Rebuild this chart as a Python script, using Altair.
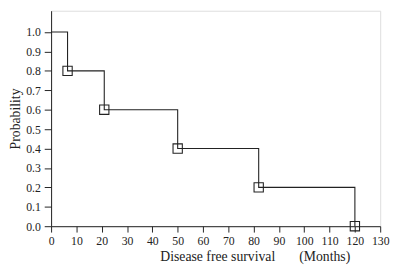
import altair as alt
import pandas as pd

months = [0, 6.5, 21, 50, 82, 120]
prob = [1.0, 0.8, 0.6, 0.4, 0.2, 0.0]
x_ticks = list(range(0, 131, 10))
y_ticks = [round(i / 10, 1) for i in range(0, 11)]

df = pd.DataFrame({"months": months, "prob": prob})

font = "Liberation Serif"
xscale = alt.Scale(domain=[0, 130], nice=False, zero=False)
yscale = alt.Scale(domain=[0, 1.11], nice=False)

xaxis = alt.Axis(values=x_ticks, grid=False, tickSize=6, labelPadding=4,
                 domainColor="#222", tickColor="#222", labelColor="#222",
                 labelFont=font, labelFontSize=12, labelOverlap=False,
                 title="Disease free survival\u00a0\u00a0\u00a0\u00a0\u00a0\u00a0\u00a0(Months)",
                 titleFont=font, titleFontSize=14, titleFontWeight="normal",
                 titleColor="#222", titleAnchor="start", titleX=111, titleY=35,
                 titleBaseline="alphabetic", labelFlush=False)
yaxis = alt.Axis(values=y_ticks, format=".1f", grid=False, tickSize=7, labelPadding=4,
                 domainColor="#222", tickColor="#222", labelColor="#222",
                 labelFont=font, labelFontSize=12, labelOverlap=False,
                 title="Probability", titleFont=font, titleFontSize=14,
                 titleFontWeight="normal", titleColor="#222", titlePadding=3)

base = alt.Chart(df).encode(
    x=alt.X("months:Q", scale=xscale, axis=xaxis),
    y=alt.Y("prob:Q", scale=yscale, axis=yaxis),
)
line = base.mark_line(interpolate="step-after", color="#222", strokeWidth=1.1)
pts = base.mark_point(shape="square", size=90, filled=False,
                      color="#222", strokeWidth=1.1, opacity=1).transform_filter(
    alt.datum.months > 0)

chart = (line + pts).properties(
    width=336, height=220,
    autosize=alt.AutoSizeParams(type="none"),
    padding={"left": 44, "top": 0, "right": 10, "bottom": 45},
).configure_view(stroke="#222", strokeWidth=1.1).configure(background="white")

chart.save("out.html", embed_options={"renderer": "svg", "actions": False})
